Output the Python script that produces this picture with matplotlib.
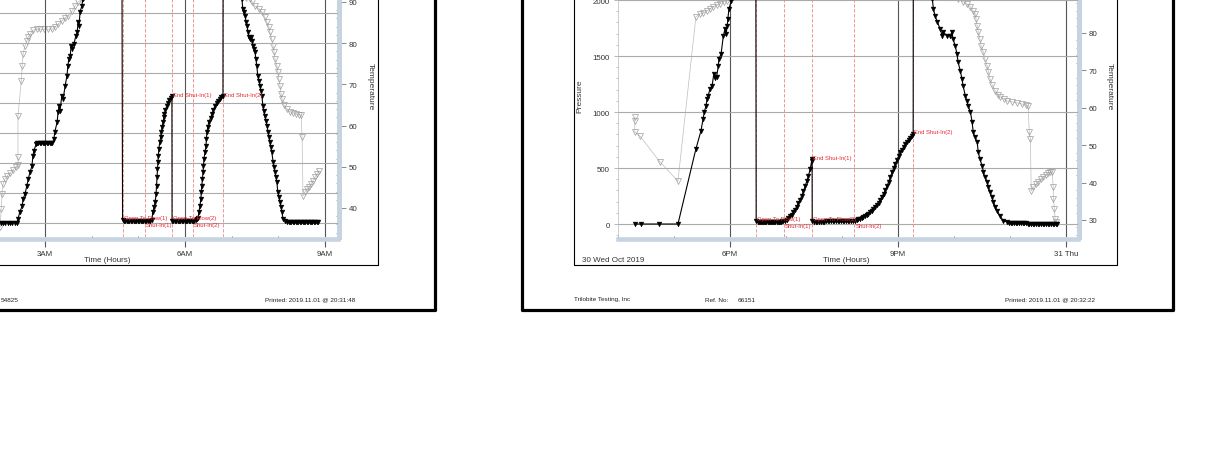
import matplotlib
matplotlib.use('Agg')
import matplotlib.pyplot as plt
from matplotlib.lines import Line2D
from matplotlib.ticker import FixedLocator, MultipleLocator

plt.rcParams['font.family'] = ['Liberation Sans', 'DejaVu Sans']

# ---------------- data (hours of day, psi, deg F) ----------------
# left report (second test), pressure
left_p_hours = (
    [1.90, 1.95, 2.00, 2.05, 2.10, 2.15, 2.20, 2.25, 2.30, 2.35, 2.40]
    + [2.42, 2.46, 2.51, 2.53, 2.57, 2.61, 2.64, 2.68, 2.72, 2.74, 2.76, 2.81]
    + [2.83, 2.86, 2.89, 2.92, 2.95, 2.98, 3.01, 3.04, 3.07, 3.10, 3.13, 3.16]
    + [3.19, 3.21, 3.26, 3.28, 3.30, 3.32, 3.36, 3.39, 3.43, 3.47, 3.49, 3.51,
       3.54, 3.56, 3.58, 3.62, 3.66, 3.69, 3.71, 3.73, 3.75, 3.79, 3.81]
    + [3.90, 4.20, 4.50, 4.65]
    + [4.662, 4.69, 4.72, 4.75, 4.78, 4.81, 4.84, 4.87, 4.90, 4.93, 4.96, 4.99,
       5.02, 5.05, 5.08, 5.11, 5.14, 5.17, 5.20, 5.23, 5.26, 5.29]
    + [5.31, 5.34, 5.36, 5.38, 5.39, 5.40, 5.41, 5.42, 5.43, 5.44, 5.46, 5.48,
       5.49, 5.51, 5.53, 5.55, 5.56, 5.58, 5.61, 5.64, 5.66, 5.69, 5.72]
    + [5.723, 5.75, 5.78, 5.81, 5.84, 5.87, 5.90, 5.93, 5.96, 5.99, 6.02, 6.05,
       6.08, 6.11, 6.14, 6.17, 6.20, 6.23, 6.26, 6.28]
    + [6.30, 6.32, 6.34, 6.35, 6.36, 6.375, 6.386, 6.396, 6.407, 6.43, 6.45, 6.46,
       6.47, 6.49, 6.51, 6.55, 6.58, 6.61, 6.64, 6.68, 6.71, 6.75, 6.78, 6.814]
    + [6.816, 7.00, 7.15]
    + [7.22, 7.24, 7.26, 7.29, 7.31, 7.33, 7.35, 7.37, 7.39, 7.41, 7.44, 7.46,
       7.48, 7.50, 7.52, 7.54, 7.56, 7.59, 7.61, 7.63, 7.65, 7.67, 7.69, 7.71,
       7.74, 7.76, 7.78, 7.80, 7.82, 7.84, 7.86, 7.89, 7.91, 7.93, 7.95, 7.97,
       7.99, 8.01, 8.04, 8.06, 8.08, 8.10, 8.14]
    + [8.19, 8.22, 8.25, 8.28, 8.31, 8.34, 8.37, 8.40, 8.43, 8.46, 8.49, 8.52,
       8.55, 8.58, 8.61, 8.64, 8.67, 8.70, 8.73, 8.76, 8.79, 8.82, 8.85]
)
left_p_psi = (
    [8] * 11
    + [67, 183, 283, 400, 483, 617, 733, 850, 950, 1117, 1200, 1317]
    + [1333, 1335, 1333, 1330, 1333, 1335, 1333, 1333, 1330, 1333, 1335, 1333]
    + [1400, 1517, 1683, 1850, 1950, 1867, 2117, 2067, 2283, 2450, 2617, 2733,
       2783, 2950, 2900, 2983, 3117, 3183, 3350, 3283, 3517, 3617, 3733]
    + [3850, 3950, 3990, 4000]
    + [50, 38, 36, 35, 35, 35, 35, 35, 35, 35, 35, 35,
       35, 36, 36, 36, 37, 37, 38, 38, 40, 45]
    + [183, 267, 350, 483, 617, 767, 900, 1017, 1117, 1233, 1350, 1433,
       1517, 1600, 1683, 1767, 1817, 1883, 1950, 2000, 2050, 2083, 2117]
    + [33, 33, 33, 34, 34, 34, 34, 35, 35, 35, 35, 35,
       36, 36, 37, 38, 40, 45, 60, 90]
    + [183, 283, 400, 517, 617, 733, 850, 950, 1067, 1183, 1283, 1400,
       1517, 1600, 1683, 1750, 1817, 1883, 1950, 2000, 2033, 2067, 2100, 2117]
    + [4000, 3990, 3850]
    + [3733, 3567, 3517, 3450, 3350, 3283, 3183, 3100, 3067, 3100, 3033, 2950,
       2900, 2850, 2733, 2617, 2450, 2367, 2283, 2200, 2117, 1950, 1867, 1783,
       1700, 1617, 1517, 1433, 1350, 1267, 1183, 1017, 933, 850, 767, 683,
       517, 433, 350, 267, 183, 67, 33]
    + [17, 15, 14, 13, 12, 12, 11, 11, 10, 10, 10, 10,
       10, 10, 10, 10, 10, 10, 10, 10, 10, 10, 10]
)
# left report, temperature
left_t_hours = [1.90, 2.04, 2.06, 2.08, 2.10, 2.14, 2.19, 2.25, 2.31, 2.38,
                2.42, 2.42, 2.42, 2.49, 2.51, 2.53, 2.57, 2.61, 2.64, 2.68,
                2.74, 2.83, 2.89, 2.98, 3.06, 3.15, 3.21, 3.28, 3.36, 3.43,
                3.49, 3.58, 3.64, 3.71, 3.79, 4.2, 5.0, 6.0, 7.0, 7.3,
                7.39, 7.44, 7.50, 7.59, 7.65, 7.71, 7.76, 7.80, 7.82, 7.86,
                7.89, 7.91, 7.93, 7.97, 7.99, 8.01, 8.04, 8.06, 8.08, 8.12,
                8.19, 8.25, 8.31, 8.38, 8.44, 8.49, 8.51, 8.53, 8.57, 8.61,
                8.66, 8.70, 8.74, 8.79, 8.83, 8.87]
left_t_deg = [33.5, 35.4, 39.8, 43.4, 45.8, 47.0, 47.8, 48.5, 49.2, 50.0,
              50.4, 52.4, 62.3, 70.8, 74.5, 77.4, 79.3, 80.5, 81.5, 82.2,
              83.2, 83.4, 83.4, 83.4, 83.4, 83.4, 83.9, 84.7, 85.4, 86.1,
              86.6, 87.8, 89.0, 90.0, 90.7, 92, 94, 95, 93, 91,
              90.7, 90.0, 89.0, 88.3, 87.6, 86.4, 85.1, 83.9, 82.7, 81.0,
              79.3, 77.9, 76.2, 74.5, 73.0, 71.3, 69.6, 67.7, 66.5, 65.0,
              64.0, 63.3, 63.1, 62.8, 62.6, 62.6, 57.2, 42.9, 43.9, 44.6,
              45.1, 45.8, 46.6, 47.5, 48.3, 49.0]

# right report (30 Wed Oct 2019), pressure
right_p_hours = (
    [16.30, 16.41, 16.73, 17.07]
    + [17.39, 17.48, 17.52, 17.54, 17.57, 17.59, 17.61, 17.64, 17.68, 17.71, 17.73, 17.76,
       17.79, 17.80, 17.84, 17.88, 17.91, 17.93, 17.95, 17.96, 17.98, 18.02, 18.05]
    + [18.10, 18.20, 18.30, 18.40, 18.46]
    + [18.466, 18.49, 18.51, 18.53, 18.55, 18.57, 18.59, 18.61, 18.63, 18.65, 18.67, 18.69,
       18.71, 18.73, 18.75, 18.77, 18.79, 18.81, 18.83, 18.85, 18.87, 18.89, 18.91, 18.93, 18.95]
    + [18.98, 19.01, 19.04, 19.07, 19.10, 19.13, 19.16, 19.19, 19.22, 19.25, 19.28, 19.31,
       19.34, 19.37, 19.40, 19.43, 19.458, 19.464]
    + [19.466, 19.50, 19.53, 19.56, 19.59, 19.62, 19.65, 19.68, 19.71, 19.74, 19.77, 19.80,
       19.83, 19.86, 19.89, 19.92, 19.95, 19.98, 20.01, 20.04, 20.07, 20.10, 20.13, 20.16, 20.19]
    + [20.23, 20.26, 20.29, 20.32, 20.35, 20.38, 20.41, 20.44, 20.47, 20.50, 20.53, 20.56,
       20.59, 20.62, 20.65, 20.68, 20.71, 20.74, 20.77, 20.80, 20.83, 20.86, 20.89, 20.92,
       20.95, 20.98, 21.01, 21.04, 21.07, 21.10, 21.13, 21.16, 21.19, 21.21, 21.24, 21.268]
    + [21.27, 21.40, 21.50, 21.58]
    + [21.61, 21.63, 21.66, 21.70, 21.75, 21.79, 21.80, 21.88, 21.93, 21.96, 21.98, 22.02,
       22.05, 22.07, 22.11, 22.14, 22.16, 22.20, 22.23, 22.25, 22.29, 22.32, 22.34, 22.37,
       22.41, 22.43, 22.46, 22.50, 22.52, 22.55, 22.59, 22.61, 22.64, 22.67, 22.70, 22.73,
       22.77, 22.82, 22.88, 22.95]
    + [22.98, 23.01, 23.04, 23.07, 23.10, 23.13, 23.16, 23.19, 23.22, 23.25, 23.28, 23.31,
       23.34, 23.37, 23.40, 23.43, 23.46, 23.49, 23.52, 23.55, 23.58, 23.61, 23.64, 23.67,
       23.70, 23.73, 23.76, 23.79, 23.82, 23.84]
)
right_p_psi = (
    [0, 0, 0, 0]
    + [670, 830, 940, 1000, 1055, 1115, 1145, 1205, 1235, 1340, 1300, 1315,
       1410, 1470, 1520, 1680, 1740, 1700, 1770, 1830, 1920, 1990, 2060]
    + [2150, 2230, 2260, 2270, 2275]
    + [27, 21, 20, 19, 19, 19, 19, 19, 19, 19, 20, 20,
       20, 20, 20, 20, 20, 21, 21, 21, 21, 22, 22, 23, 24]
    + [27, 38, 51, 69, 83, 104, 128, 155, 185, 217, 253, 292,
       336, 384, 432, 491, 565, 580]
    + [25, 22, 22, 22, 22, 22, 22, 22, 23, 23, 23, 23,
       23, 23, 23, 24, 24, 24, 24, 24, 25, 25, 26, 27, 28]
    + [31, 36, 42, 48, 55, 63, 72, 82, 93, 105, 120, 135,
       152, 170, 192, 215, 242, 270, 300, 335, 377, 420, 460, 500,
       538, 575, 608, 640, 665, 690, 710, 730, 748, 765, 783, 804]
    + [2290, 2300, 2200, 2060]
    + [2009, 1920, 1857, 1804, 1741, 1679, 1714, 1679, 1679, 1714, 1652, 1589,
       1518, 1446, 1366, 1295, 1232, 1143, 1098, 1054, 1000, 911, 821, 778,
       732, 643, 580, 518, 464, 420, 375, 330, 286, 240, 196, 155,
       116, 71, 27, 18]
    + [12, 10, 9, 8, 7, 6, 6, 5, 5, 5, 5, 4,
       4, 4, 4, 4, 4, 3, 3, 3, 3, 3, 3, 3,
       3, 4, 4, 4, 4, 4]
)
# right report, temperature
right_t_hours = [16.30, 16.30, 16.30, 16.39, 16.75, 17.07, 17.39, 17.46, 17.52, 17.59,
                 17.64, 17.70, 17.77, 17.82, 17.89, 17.95, 18.00, 18.30, 19.00, 20.00,
                 21.00, 21.50, 21.90, 22.07, 22.16, 22.23, 22.29, 22.34, 22.38, 22.39,
                 22.41, 22.43, 22.46, 22.48, 22.52, 22.55, 22.59, 22.61, 22.64, 22.68,
                 22.73, 22.79, 22.82, 22.89, 22.95, 23.04, 23.13, 23.21, 23.29, 23.32,
                 23.34, 23.36, 23.375, 23.41, 23.46, 23.50, 23.55, 23.59, 23.64, 23.68,
                 23.71, 23.75, 23.768, 23.77, 23.79, 23.80, 23.82]
right_t_deg = [57.5, 56.5, 53.5, 52.5, 45.5, 40.4, 84.3, 85.1, 85.3, 85.9,
               86.4, 87.0, 87.5, 87.8, 88.3, 88.6, 89.1, 92, 94, 95,
               96, 95, 91, 89.1, 88.3, 87.8, 87.0, 85.9, 85.1, 83.7,
               81.9, 80.3, 78.4, 76.5, 74.9, 73.0, 71.2, 69.6, 67.7, 66.1,
               64.5, 63.4, 62.9, 62.4, 61.8, 61.6, 61.3, 61.0, 60.7, 60.5,
               53.5, 51.7, 37.8, 38.8, 39.6, 40.2, 41.0, 41.5, 42.0, 42.6,
               42.8, 42.8, 38.8, 35.6, 32.9, 30.3, 29.5]

# test events: open to flow 1, shut-in 1, end shut-in 1 / open 2, shut-in 2, end shut-in 2
left_events = [4.661, 5.143, 5.721, 6.171, 6.814]
right_events = [18.464, 18.964, 19.464, 20.214, 21.268]
event_names = ['Open To Flow(1)', 'Shut-In(1)', 'End Shut-In(1)',
               'Open To Flow(2)', 'Shut-In(2)', 'End Shut-In(2)']
event_of_name = [0, 1, 2, 2, 3, 4]
left_label_psi = [100, -20, 2150, 100, -20, 2150]
right_label_psi = [50, -10, 590, 50, -10, 830]

left_xticks = [3, 6, 9]
left_xlabels = ['3AM', '6AM', '9AM']
right_xticks = [18, 21, 24]
right_xlabels = ['6PM', '9PM', '31 Thu']
left_tticks = [40, 50, 60, 70, 80, 90]
right_tticks = [30, 40, 50, 60, 70, 80]

# ---------------- figure ----------------
W, H = 1209, 452
fig = plt.figure(figsize=(W / 100, H / 100), dpi=100)
fig.patch.set_facecolor('white')


def rect(x0, y0, x1, y1):
    return [x0 / W, 1 - y1 / H, (x1 - x0) / W, (y1 - y0) / H]


def fline(xs, ys, lw):
    fig.add_artist(Line2D([x / W for x in xs], [1 - y / H for y in ys],
                          transform=fig.transFigure, color='black', lw=lw))


def ftext(x, y, s, **kw):
    kw.setdefault('fontsize', 4.6)
    kw.setdefault('color', '#222222')
    fig.text(x / W, 1 - y / H, s, **kw)


# page frames and chart boxes
fline([-10, 434.5, 434.5], [310.5, 310.5, -10], 2.3)
fline([522, 522, 1172.5, 1172.5], [-10, 310.5, 310.5, -10], 2.3)
fline([-10, 378, 378], [266, 266, -10], 0.8)
fline([574, 574, 1117, 1117], [-10, 266, 266, -10], 0.8)

band = '#c6d3e0'
tick_fs = 5.7


def make_chart(pos, xlim, plim, tlim, xticks, xlabels, pmajor, tticks, show_p):
    ax = fig.add_axes(pos)
    ax2 = ax.twinx()
    ax.set_zorder(ax2.get_zorder() + 1)
    ax.patch.set_visible(False)
    ax.set_xlim(*xlim)
    ax.set_ylim(*plim)
    ax2.set_ylim(*tlim)

    ax.xaxis.set_major_locator(FixedLocator(xticks))
    ax.set_xticklabels(xlabels)
    ax.xaxis.set_minor_locator(MultipleLocator(1))
    ax.yaxis.set_major_locator(MultipleLocator(pmajor))
    ax.yaxis.set_minor_locator(MultipleLocator(100))
    ax2.yaxis.set_major_locator(FixedLocator(tticks))
    ax2.yaxis.set_minor_locator(MultipleLocator(2))

    ax.set_axisbelow(True)
    ax.grid(axis='x', which='major', color='#555555', lw=0.8)
    ax.grid(axis='y', which='major', color='#aaaaaa', lw=0.8)

    for a in (ax, ax2):
        a.spines['top'].set_visible(False)
    ax.spines['right'].set_visible(False)
    ax2.spines['bottom'].set_visible(False)
    ax2.spines['left'].set_visible(False)
    ax.spines['left'].set_color('#bbbbbb')
    ax.spines['left'].set_linewidth(0.5)
    ax.spines['bottom'].set_color(band)
    ax.spines['bottom'].set_linewidth(3.3)
    ax.spines['bottom'].set_position(('outward', 1.5))
    ax2.spines['right'].set_color(band)
    ax2.spines['right'].set_linewidth(3.6)
    ax2.spines['right'].set_position(('outward', 1))

    ax.tick_params(axis='x', which='major', direction='out', length=6, width=0.8,
                   color='#555555', labelsize=tick_fs, labelcolor='#333333', pad=1.5)
    ax.tick_params(axis='x', which='minor', direction='in', length=2.5, width=0.6,
                   color='#555555')
    ax.tick_params(axis='y', which='major', direction='out', length=3, width=0.5,
                   color='#999999', labelsize=tick_fs, labelcolor='#333333', pad=3,
                   labelleft=show_p)
    ax.tick_params(axis='y', which='minor', direction='out', length=1.8, width=0.4,
                   color='#999999')
    ax2.tick_params(axis='y', which='major', direction='out', length=5, width=0.6,
                    color='#777777', labelsize=tick_fs, labelcolor='#333333', pad=2)
    ax2.tick_params(axis='y', which='minor', direction='in', length=2.2, width=0.5,
                    color='#777777')
    return ax, ax2


def draw_data(ax, ax2, p_h, p_v, t_h, t_v, events, label_psi):
    ax2.plot(t_h, t_v, color='#bdbdbd', lw=0.5, marker='v', ms=3.9,
             mfc='none', mec='#9e9e9e', mew=0.5, zorder=3)
    for t in events:
        ax.axvline(t, color='#f08484', lw=0.6, ls=(0, (4, 2)), zorder=1.5)
    ax.plot(p_h, p_v, color='black', lw=0.8, marker='v', ms=3.5,
            mfc='black', mec='black', mew=0.3, zorder=3)
    for name, k, p in zip(event_names, event_of_name, label_psi):
        ax.annotate(name, (events[k], p), xytext=(0.8, 0), textcoords='offset points',
                    fontsize=4.2, color='#e8262e', ha='left', va='center', zorder=4)


# left report: plot area pixels x -122..338, y -60..238 (its pressure scale is off-page)
axL, axL2 = make_chart(rect(-122, -60, 338, 238), (-0.58, 9.28), (-233, 4733),
                       (32.96, 105.29), left_xticks, left_xlabels, 500, left_tticks, False)
draw_data(axL, axL2, left_p_hours, left_p_psi, left_t_hours, left_t_deg,
          left_events, left_label_psi)

# right report: plot area pixels x 618..1078, y -60..238
axR, axR2 = make_chart(rect(618, -60, 1078, 238), (16.0, 24.21), (-116, 2545),
                       (25.45, 105.13), right_xticks, right_xlabels, 500, right_tticks, True)
draw_data(axR, axR2, right_p_hours, right_p_psi, right_t_hours, right_t_deg,
          right_events, right_label_psi)

# axis titles
ftext(107, 260, 'Time (Hours)', fontsize=5.8, ha='center', va='center', color='#333333')
ftext(846, 260, 'Time (Hours)', fontsize=5.8, ha='center', va='center', color='#333333')
ftext(582, 260, '30 Wed Oct 2019', fontsize=5.8, ha='left', va='center', color='#333333')
ftext(580, 96, 'Pressure', fontsize=6, rotation=90, ha='center', va='center', color='#333333')
ftext(370, 87, 'Temperature', fontsize=6, rotation=270, ha='center', va='center', color='#333333')
ftext(1109, 87, 'Temperature', fontsize=6, rotation=270, ha='center', va='center', color='#333333')

# footers
ftext(0.5, 300, '54825', ha='left', va='center')
ftext(265, 300, 'Printed: 2019.11.01 @ 20:31:48', ha='left', va='center')
ftext(574, 300, 'Trilobite Testing, Inc', ha='left', va='center')
ftext(705, 300, 'Ref. No:', ha='left', va='center')
ftext(738, 300, '66151', ha='left', va='center')
ftext(1005, 300, 'Printed: 2019.11.01 @ 20:32:22', ha='left', va='center')

fig.savefig('out.png', dpi=100)
